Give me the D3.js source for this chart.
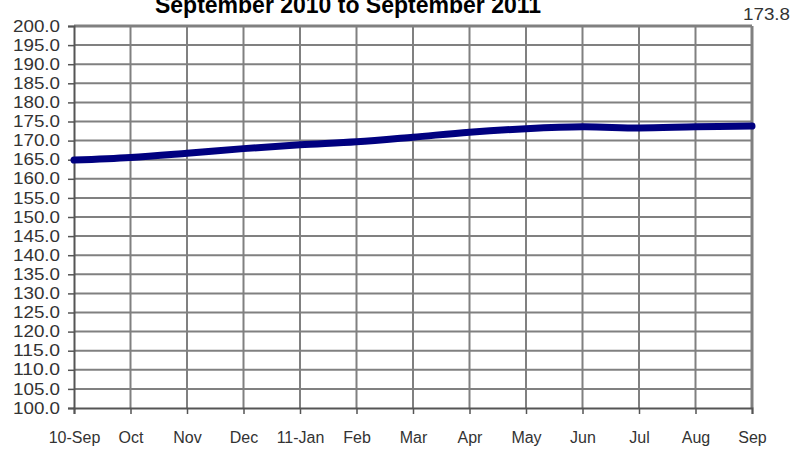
<!DOCTYPE html>
<html lang="en">
<head>
<meta charset="UTF-8">
<title>September 2010 to September 2011</title>
<script src="https://d3js.org/d3.v7.min.js"></script>
<style>
    body { margin: 0; background: #fff; }
    text { font-family: "Liberation Sans", Arial, sans-serif; }
</style>
</head>
<body>
<div id="chart"></div>
<script>
    const months = ["10-Sep", "Oct", "Nov", "Dec", "11-Jan", "Feb", "Mar", "Apr", "May", "Jun", "Jul", "Aug", "Sep"];
    const values = [164.9, 165.6, 166.7, 167.9, 168.9, 169.7, 170.9, 172.2, 173.1, 173.6, 173.3, 173.6, 173.8];
    const yTicks = d3.range(100, 200.1, 5);
    const title = "September 2010 to September 2011";
    const lastLabel = "173.8";

    const width = 794;
    const height = 449;
    const margin = { top: 26, right: 42, bottom: 41, left: 74 };

    const svg = d3.select("#chart")
        .append("svg")
        .attr("width", width)
        .attr("height", height);

    const x = d3.scalePoint()
        .domain(months)
        .range([margin.left, width - margin.right]);

    const y = d3.scaleLinear()
        .domain([100, 200])
        .range([height - margin.bottom, margin.top]);

    // grid lines
    svg.append("g")
        .selectAll("line")
        .data(yTicks.slice(1))
        .join("line")
        .attr("x1", margin.left)
        .attr("x2", width - margin.right)
        .attr("y1", d => y(d))
        .attr("y2", d => y(d))
        .attr("stroke", "#808080")
        .attr("stroke-width", d => d === 200 ? 3 : 2);

    svg.append("g")
        .selectAll("line")
        .data(months.slice(1))
        .join("line")
        .attr("x1", d => x(d))
        .attr("x2", d => x(d))
        .attr("y1", margin.top)
        .attr("y2", height - margin.bottom)
        .attr("stroke", "#808080")
        .attr("stroke-width", (d, i) => i === months.length - 2 ? 3 : 2);

    // y axis
    const yAxis = svg.append("g")
        .attr("transform", `translate(${margin.left},0)`)
        .call(d3.axisLeft(y).tickValues(yTicks).tickFormat(d3.format(".1f")).tickSize(6).tickPadding(8));
    yAxis.select(".domain").attr("stroke", "#555").attr("stroke-width", 2);
    yAxis.selectAll(".tick line").attr("stroke", "#555").attr("stroke-width", 1.5);
    yAxis.selectAll(".tick text")
        .attr("fill", "#333")
        .style("font-size", "16px")
        .attr("textLength", 47)
        .attr("lengthAdjust", "spacingAndGlyphs");

    // x axis
    const xAxis = svg.append("g")
        .attr("transform", `translate(0,${height - margin.bottom})`)
        .call(d3.axisBottom(x).tickSize(6).tickPadding(18));
    xAxis.select(".domain").attr("stroke", "#555").attr("stroke-width", 2);
    xAxis.selectAll(".tick line").attr("stroke", "#555").attr("stroke-width", 1.5);
    xAxis.selectAll(".tick text")
        .attr("fill", "#333")
        .style("font-size", "16px");

    // data line
    const line = d3.line()
        .x((d, i) => x(months[i]))
        .y(d => y(d))
        .curve(d3.curveCatmullRom.alpha(0.5));

    svg.append("path")
        .datum(values)
        .attr("d", line)
        .attr("fill", "none")
        .attr("stroke", "#000080")
        .attr("stroke-width", 7)
        .attr("stroke-linecap", "round");

    // title (its upper part is cut off in the original)
    svg.append("text")
        .attr("x", 348)
        .attr("y", 13)
        .attr("text-anchor", "middle")
        .style("font-size", "23px")
        .style("font-weight", "bold")
        .attr("fill", "#000")
        .text(title);

    // last value label
    svg.append("text")
        .attr("x", 790)
        .attr("y", 20)
        .attr("text-anchor", "end")
        .style("font-size", "16px")
        .attr("fill", "#333")
        .attr("textLength", 47)
        .attr("lengthAdjust", "spacingAndGlyphs")
        .text(lastLabel);
</script>
</body>
</html>
